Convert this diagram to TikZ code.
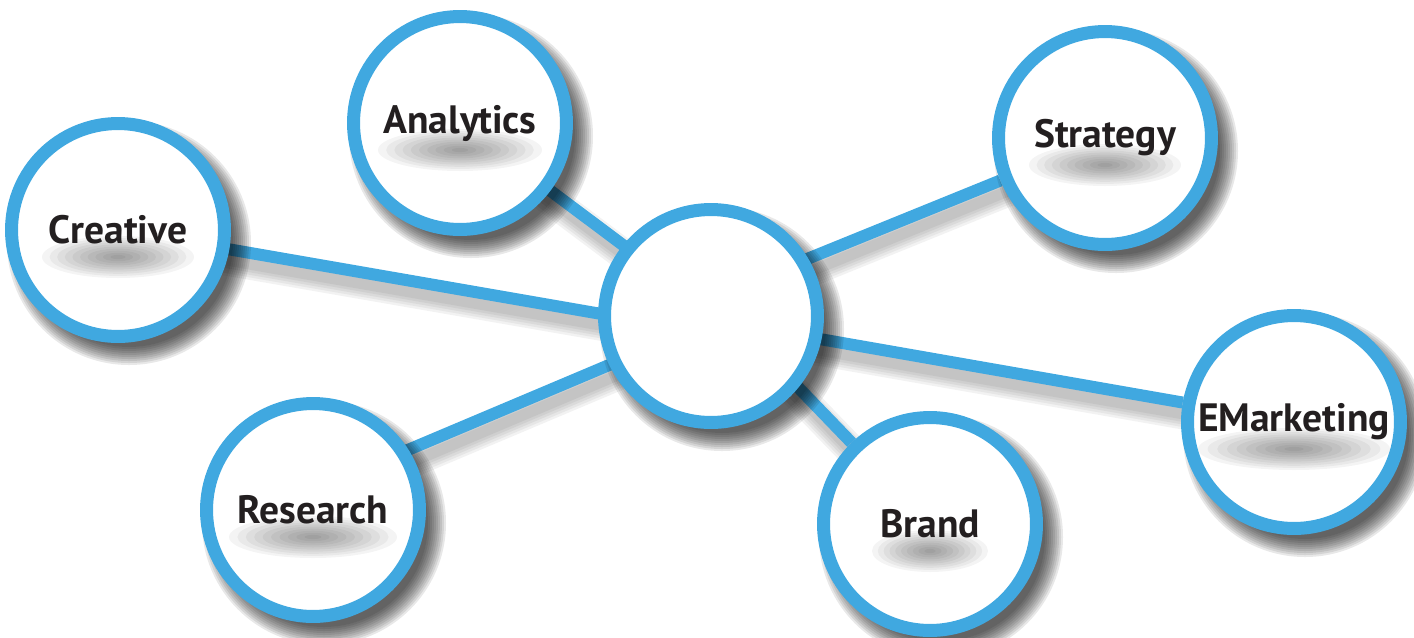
\documentclass[tikz,border=0pt]{standalone}
\usepackage{fontspec}
\setmainfont{PT Sans}
\usetikzlibrary{calc}
\definecolor{ringblue}{RGB}{64,168,224}
\definecolor{txt}{RGB}{35,31,32}
\pgfdeclarelayer{lshadow}
\pgfdeclarelayer{lines}
\pgfdeclarelayer{cshadow}
\pgfsetlayers{lshadow,lines,cshadow,main}
\begin{document}
\begin{tikzpicture}[x=0.02cm,y=0.02cm,
  ring/.style={circle, draw=ringblue, line width=0.26cm, fill=white,
    minimum size=4.26cm, inner sep=0pt},
  bubble/.style={ring, font=\fontsize{22.5}{26}\selectfont\bfseries, text=txt,
    path picture={\foreach \k in {1,...,10}{
      \fill[black, opacity=0.045]
      ($(path picture bounding box.center)+(0,-27)$) ellipse [x radius={#1*\k/10}, y radius={21*\k/10}];}}},
  link/.style={draw=ringblue, line width=0.24cm},
  lshade/.style={draw=black, opacity=0.05, line width=#1},
  cshade/.style={fill=black, opacity=0.09}
]
\useasboundingbox (0,0) rectangle (1414,-637);

% nodes
\node[ring] (hub) at (711,-316) {};
\node[bubble=82] (ana) at (460,-123) {Analytics};
\node[bubble=76] (cre) at (118,-230) {Creative};
\node[bubble=76] (str) at (1105,-138) {Strategy};
\node[bubble=84] (res) at (313,-510) {Research};
\node[bubble=58] (brd) at (930,-524) {Brand};
\node[bubble=96] (emk) at (1294,-422) {EMarketing};

% connectors
\begin{pgfonlayer}{lines}
  \draw[link] (ana) -- ($(hub)+(0,5)$);
  \draw[link] (cre) -- ($(hub)+(0,-17)$);
  \draw[link] ($(res)+(0,20)$) -- ($(hub)+(0,-6)$);
  \draw[link] (str) -- ($(hub)+(0,18)$);
  \draw[link] (emk) -- ($(hub)+(0,-4)$);
  \draw[link] (brd) -- ($(hub)+(0,19)$);
\end{pgfonlayer}

% connector shadows
\begin{pgfonlayer}{lshadow}
  \foreach \w in {0.22cm,0.32cm,0.42cm,0.52cm,0.62cm}{
    \draw[lshade=\w] ($(ana)+(4,-12)$) -- ($(hub)+(4,-7)$);
    \draw[lshade=\w] ($(cre)+(4,-12)$) -- ($(hub)+(4,-29)$);
    \draw[lshade=\w] ($(res)+(4,8)$) -- ($(hub)+(4,-18)$);
    \draw[lshade=\w] ($(str)+(4,-12)$) -- ($(hub)+(4,6)$);
    \draw[lshade=\w] ($(emk)+(4,-12)$) -- ($(hub)+(4,-16)$);
    \draw[lshade=\w] ($(brd)+(4,-12)$) -- ($(hub)+(4,7)$);
  }
\end{pgfonlayer}

% circle shadows
\begin{pgfonlayer}{cshadow}
  \foreach \n in {hub,ana,cre,str,res,brd,emk}{
    \foreach \k in {0,...,9}{
      \fill[cshade] ($(\n)+(11,-13)$) circle [radius=104+\k*2];
    }
  }
\end{pgfonlayer}
\end{tikzpicture}
\end{document}
